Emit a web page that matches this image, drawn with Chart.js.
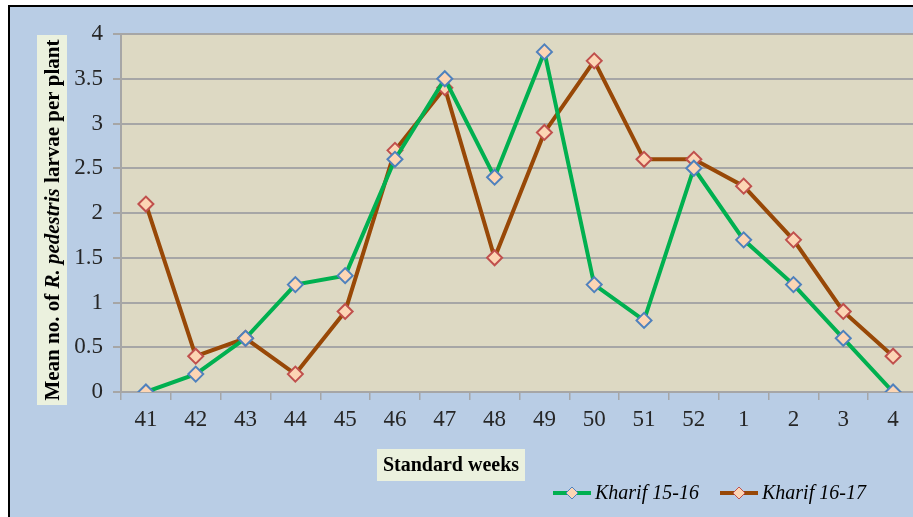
<!DOCTYPE html>
<html>
<head>
<meta charset="utf-8">
<script src="https://cdn.jsdelivr.net/npm/chart.js@4"></script>
<style>
  html, body { margin: 0; padding: 0; overflow: hidden; background: #fff; }
  #frame { position: absolute; left: 8px; top: 5px; width: 930px; height: 530px;
    background: #b9cde5; border-left: 2px solid #000; border-top: 2px solid #000; }
  #wrap { position: absolute; left: 0; top: 0; width: 930px; height: 517px; }
</style>
</head>
<body>
<div id="frame"></div>
<div id="wrap"><canvas id="myChart"></canvas></div>
<script>
const semanas = ["41", "42", "43", "44", "45", "46", "47", "48", "49", "50", "51", "52", "1", "2", "3", "4"];
const kharif1516 = [0, 0.2, 0.6, 1.2, 1.3, 2.6, 3.5, 2.4, 3.8, 1.2, 0.8, 2.5, 1.7, 1.2, 0.6, 0];
const kharif1617 = [2.1, 0.4, 0.6, 0.2, 0.9, 2.7, 3.4, 1.5, 2.9, 3.7, 2.6, 2.6, 2.3, 1.7, 0.9, 0.4];
const nombres = ["Kharif 15-16", "Kharif 16-17"];

const serif = "'Liberation Serif', 'Times New Roman', serif";

/*Fondo del area del grafico, titulos y leyenda*/
const decoracion = {
  id: "decoracion",
  beforeDraw(chart) {
    const { ctx, chartArea } = chart;
    ctx.save();
    ctx.fillStyle = "#ddd9c3";
    ctx.fillRect(chartArea.left, chartArea.top, chartArea.right - chartArea.left, chartArea.bottom - chartArea.top);
    ctx.restore();
  },
  afterDraw(chart) {
    const ctx = chart.ctx;
    ctx.save();
    // titulo eje y
    ctx.fillStyle = "#ebf1de";
    ctx.fillRect(37, 35, 30, 370);
    const partes = [
      ["bold 21px " + serif, "Mean no. of "],
      ["italic bold 21px " + serif, "R. pedestris"],
      ["bold 21px " + serif, " larvae per plant"],
    ];
    let total = 0;
    partes.forEach((p) => { ctx.font = p[0]; total += ctx.measureText(p[1]).width; });
    ctx.translate(59, 220);
    ctx.rotate(-Math.PI / 2);
    ctx.fillStyle = "#000";
    ctx.textBaseline = "alphabetic";
    let x = -total / 2;
    partes.forEach((p) => { ctx.font = p[0]; ctx.fillText(p[1], x, 0); x += ctx.measureText(p[1]).width; });
    ctx.restore();

    // titulo eje x
    ctx.save();
    ctx.fillStyle = "#ebf1de";
    ctx.fillRect(377, 449, 148, 32);
    ctx.font = "bold 20px " + serif;
    ctx.fillStyle = "#000";
    ctx.textAlign = "center";
    ctx.textBaseline = "middle";
    ctx.fillText("Standard weeks", 451, 466);
    ctx.restore();

    // leyenda
    const items = [
      { x: 553, color: "#00b050", borde: "#4f81bd", texto: nombres[0] },
      { x: 720, color: "#984807", borde: "#c0504d", texto: nombres[1] },
    ];
    items.forEach((it) => {
      ctx.save();
      ctx.strokeStyle = it.color;
      ctx.lineWidth = 4;
      ctx.beginPath();
      ctx.moveTo(it.x, 493);
      ctx.lineTo(it.x + 38, 493);
      ctx.stroke();
      const cx = it.x + 19;
      ctx.beginPath();
      ctx.moveTo(cx, 487); ctx.lineTo(cx + 6, 493); ctx.lineTo(cx, 499); ctx.lineTo(cx - 6, 493); ctx.closePath();
      ctx.fillStyle = "#fcd5b4";
      ctx.fill();
      ctx.lineWidth = 1;
      ctx.strokeStyle = it.borde;
      ctx.stroke();
      ctx.font = "italic 20px " + serif;
      ctx.fillStyle = "#000";
      ctx.textBaseline = "middle";
      ctx.fillText(it.texto, it.x + 42, 494);
      ctx.restore();
    });
  },
};

const ctx = document.getElementById("myChart").getContext("2d");
const myChartLarvas = new Chart(ctx, {
  type: "line",
  data: {
    labels: semanas,
    datasets: [
      {
        label: nombres[0],
        data: kharif1516,
        borderColor: "#00b050",
        borderWidth: 4,
        pointStyle: "rectRot",
        pointRadius: 7.5,
        pointBackgroundColor: "#fcd5b4",
        pointBorderColor: "#4f81bd",
        pointBorderWidth: 2,
        tension: 0,
      },
      {
        label: nombres[1],
        data: kharif1617,
        borderColor: "#984807",
        borderWidth: 4,
        pointStyle: "rectRot",
        pointRadius: 7.5,
        pointBackgroundColor: "#fcd5b4",
        pointBorderColor: "#c0504d",
        pointBorderWidth: 2,
        tension: 0,
      },
    ],
  },
  options: {
    responsive: true,
    maintainAspectRatio: false,
    animation: false,
    layout: { padding: { left: 0, top: 34, right: 12, bottom: 0 } },
    plugins: { legend: { display: false }, tooltip: { enabled: false } },
    scales: {
      x: {
        offset: true,
        afterFit: (s) => { s.height = 125; },
        grid: { drawOnChartArea: false, drawTicks: true, tickLength: 8, color: "#a6a6a6", lineWidth: 1.5, offset: true },
        border: { color: "#a6a6a6", width: 2 },
        ticks: { color: "#262626", font: { family: serif, size: 23 }, padding: 6, maxRotation: 0, autoSkip: false },
      },
      y: {
        min: 0,
        max: 4,
        afterFit: (s) => { s.width = 121; },
        grid: { color: "#a6a6a6", lineWidth: 2, tickLength: 8 },
        border: { color: "#a6a6a6", width: 2 },
        ticks: {
          stepSize: 0.5,
          color: "#262626",
          font: { family: serif, size: 23 },
          padding: 10,
          callback: (v) => String(v),
        },
      },
    },
  },
  plugins: [decoracion],
});
</script>
</body>
</html>
